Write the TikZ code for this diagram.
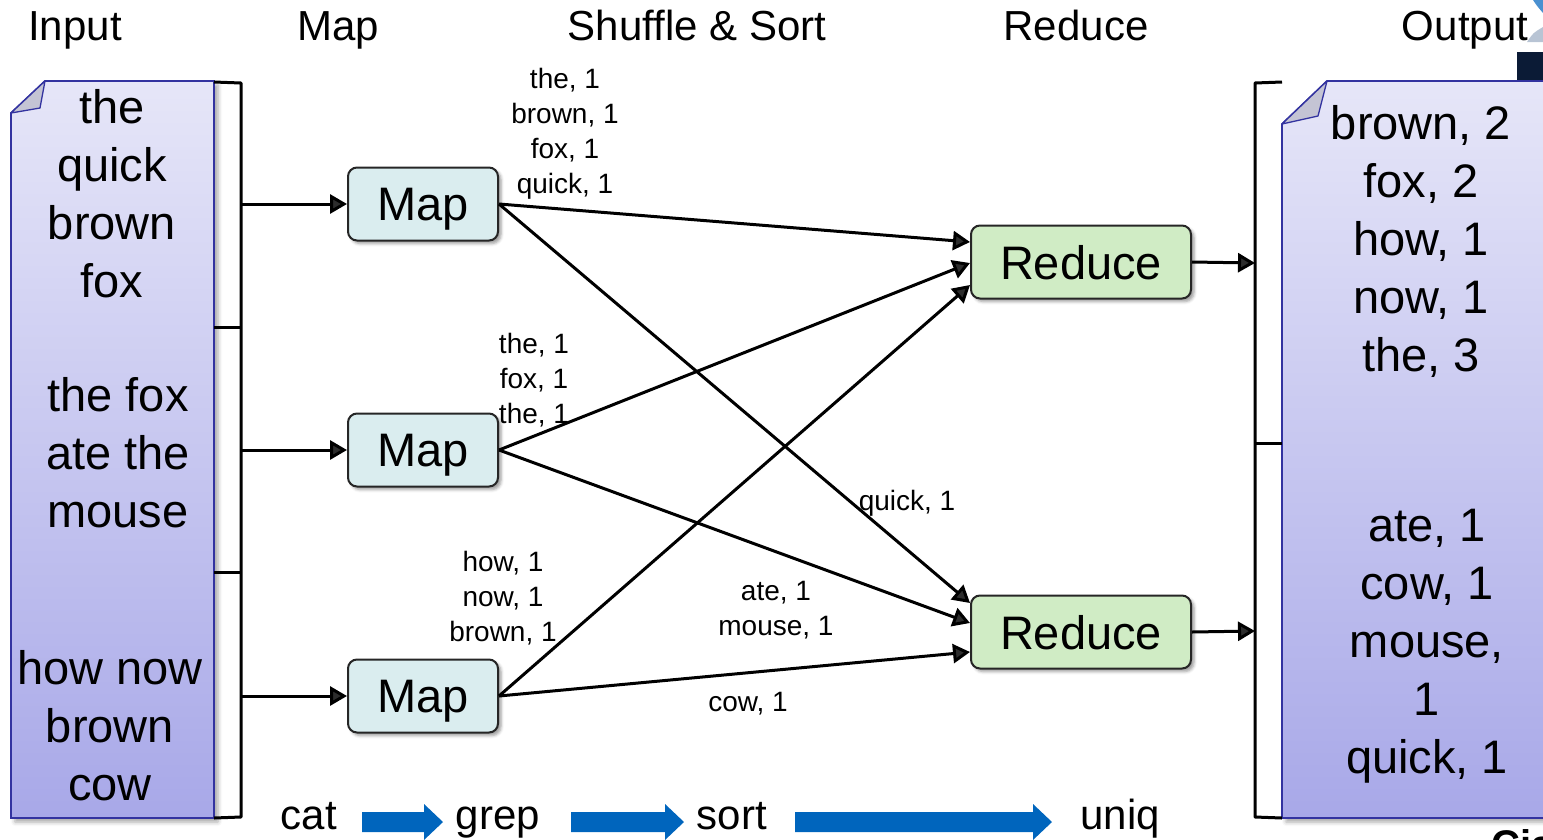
\documentclass[tikz,border=0pt]{standalone}
\usepackage{fontspec}
\setmainfont{Liberation Sans}
\usetikzlibrary{arrows.meta,shadows.blur}

\definecolor{doctop}{HTML}{E6E6F8}
\definecolor{docbot}{HTML}{A8A8E8}
\definecolor{docline}{HTML}{3333A0}
\definecolor{flapgray}{HTML}{C4C4D4}
\definecolor{mapfill}{HTML}{DAEDEF}
\definecolor{redfill}{HTML}{D0ECC5}
\definecolor{blockblue}{HTML}{0065BD}
\definecolor{navy}{HTML}{0B1B36}
\definecolor{swoosh}{HTML}{4A90D0}
\definecolor{swooshgray}{HTML}{B8C4D4}

\tikzset{
  doc/.style={draw=docline, line width=1.8pt, top color=doctop, bottom color=docbot,
    blur shadow={shadow xshift=4pt, shadow yshift=-4pt, shadow blur radius=4pt, shadow opacity=35}},
  flap/.style={draw=docline, line width=1.3pt, fill=flapgray, line join=round},
  bracket/.style={line width=3pt, line join=round},
  proc/.style={draw=black!85, line width=2pt, rounded corners=9pt, minimum height=73pt,
    inner sep=0pt, font=\fontsize{47}{56}\selectfont, text depth=0pt,
    blur shadow={shadow xshift=3pt, shadow yshift=-3pt, shadow blur radius=3pt, shadow opacity=40}},
  mapbox/.style={proc, fill=mapfill, minimum width=150pt},
  redbox/.style={proc, fill=redfill, minimum width=220pt},
  flow/.style={line width=3pt, -{Triangle[length=17pt,width=19pt]}},
  big/.style={font=\fontsize{47}{58}\selectfont, anchor=base, inner sep=0pt},
  head/.style={font=\fontsize{42}{50}\selectfont, anchor=base, inner sep=0pt},
  lbl/.style={font=\fontsize{28}{35}\selectfont, anchor=base, inner sep=0pt},
  pipe/.style={fill=blockblue},
}

\begin{document}
\begin{tikzpicture}[x=1pt,y=-1pt]
\useasboundingbox (0,0) rectangle (1543,839);

% corner decorations
\fill[navy] (1517,52) rectangle (1543,81);
\fill[swoosh] (1533,0) .. controls (1537,6) .. (1543,13) -- (1543,0) -- cycle;
\fill[swooshgray] (1527,42) .. controls (1533,33) .. (1543,27) -- (1543,42) -- cycle;

% column headings
\node[head] (hIn)  at (75,40)   {Input};
\node[head] (hMap) at (338,40)  {Map};
\node[head] (hSS)  at (697,40)  {Shuffle \& Sort};
\node[head] (hRed) at (1076,40) {Reduce};
\node[head] (hOut) at (1465,40) {Output};

% input document
\path[doc] (11,113) -- (45,81) -- (214,81) -- (214,818) -- (11,818) -- cycle;
\draw[flap] (11,113) -- (45,81) -- (40,108) -- cycle;

% output document
\path[doc] (1282,124) -- (1327,81) -- (1600,81) -- (1600,818) -- (1282,818) -- cycle;
\draw[flap] (1282,124) -- (1327,81) -- (1318,116) -- cycle;

% splits of the input
\draw[bracket] (214,82) -- (241,83) -- (241,817) -- (214,818);
\draw[bracket] (214,327) -- (241,327);
\draw[bracket] (214,572) -- (241,572);
\coordinate (ib1) at (241,204);
\coordinate (ib2) at (241,450);
\coordinate (ib3) at (241,696);

% partitions of the output
\draw[bracket] (1282,82) -- (1255,83) -- (1255,817) -- (1282,818);
\draw[bracket] (1282,443) -- (1255,443);
\coordinate (ob1) at (1255,263);
\coordinate (ob2) at (1255,631);

% input text
\foreach \t [count=\i] in {the,quick,brown,fox}
  \node[big] (inA\i) at (112,{123+58*(\i-1)}) {\t};
\foreach \t [count=\i] in {the fox,ate the,mouse}
  \node[big] (inB\i) at (118,{411+58*(\i-1)}) {\t};
\foreach \t [count=\i] in {how now,brown,cow}
  \node[big] (inC\i) at (110,{684+58*(\i-1)}) {\t};

% output text
\foreach \t [count=\i] in {{brown, 2},{fox, 2},{how, 1},{now, 1},{the, 3}}
  \node[big] (outA\i) at (1421,{139+58*(\i-1)}) {\t};
\foreach \t [count=\i] in {{ate, 1},{cow, 1},{mouse,},1,{quick, 1}}
  \node[big] (outB\i) at (1427,{541+58*(\i-1)}) {\t};

% map and reduce tasks
\node[mapbox] (m1) at (423,204) {Map};
\node[mapbox] (m2) at (423,450) {Map};
\node[mapbox] (m3) at (423,696) {Map};
\node[redbox] (r1) at (1081,262) {Reduce};
\node[redbox] (r2) at (1081,632) {Reduce};

% data flow
\draw[flow] (ib1) -- (m1.west);
\draw[flow] (ib2) -- (m2.west);
\draw[flow] (ib3) -- (m3.west);
\draw[flow] (m1.east) -- ([yshift=20pt]r1.west);
\draw[flow] (m1.east) -- ([yshift=29pt]r2.west);
\draw[flow] (m2.east) -- ([yshift=-1pt]r1.west);
\draw[flow] (m2.east) -- ([yshift=9pt]r2.west);
\draw[flow] (m3.east) -- ([yshift=-23pt]r1.west);
\draw[flow] (m3.east) -- ([yshift=-20pt]r2.west);
\draw[flow] (r1.east) -- (ob1);
\draw[flow] (r2.east) -- (ob2);

% intermediate key/value pairs
\foreach \t [count=\i] in {{the, 1},{brown, 1},{fox, 1},{quick, 1}}
  \node[lbl] (kvA\i) at (565,{88+35*(\i-1)}) {\t};
\foreach \t [count=\i] in {{the, 1},{fox, 1},{the, 1}}
  \node[lbl] (kvB\i) at (534,{353+35*(\i-1)}) {\t};
\foreach \t [count=\i] in {{how, 1},{now, 1},{brown, 1}}
  \node[lbl] (kvC\i) at (503,{571+35*(\i-1)}) {\t};
\foreach \t [count=\i] in {{ate, 1},{mouse, 1}}
  \node[lbl] (kvD\i) at (776,{600+35*(\i-1)}) {\t};
\node[lbl] (kvE) at (907,510) {quick, 1};
\node[lbl] (kvF) at (748,711) {cow, 1};

% unix pipeline analogy
\node[head] (uCat)  at (309,829)  {cat};
\node[head] (uGrep) at (498,829)  {grep};
\node[head] (uSort) at (732,829)  {sort};
\node[head] (uUniq) at (1120,829) {uniq};
\fill[pipe] (362,812) -- (424,812) -- (424,804) -- (443,822) -- (424,840) -- (424,832) -- (362,832) -- cycle;
\fill[pipe] (571,812) -- (665,812) -- (665,804) -- (684,822) -- (665,840) -- (665,832) -- (571,832) -- cycle;
\fill[pipe] (795,812) -- (1033,812) -- (1033,804) -- (1052,822) -- (1033,840) -- (1033,832) -- (795,832) -- cycle;

% logo text running off the lower edge
\node[font=\fontsize{40}{40}\selectfont\bfseries, anchor=base west, inner sep=0pt] (logo) at (1491,858) {Cis};
\end{tikzpicture}
\end{document}
